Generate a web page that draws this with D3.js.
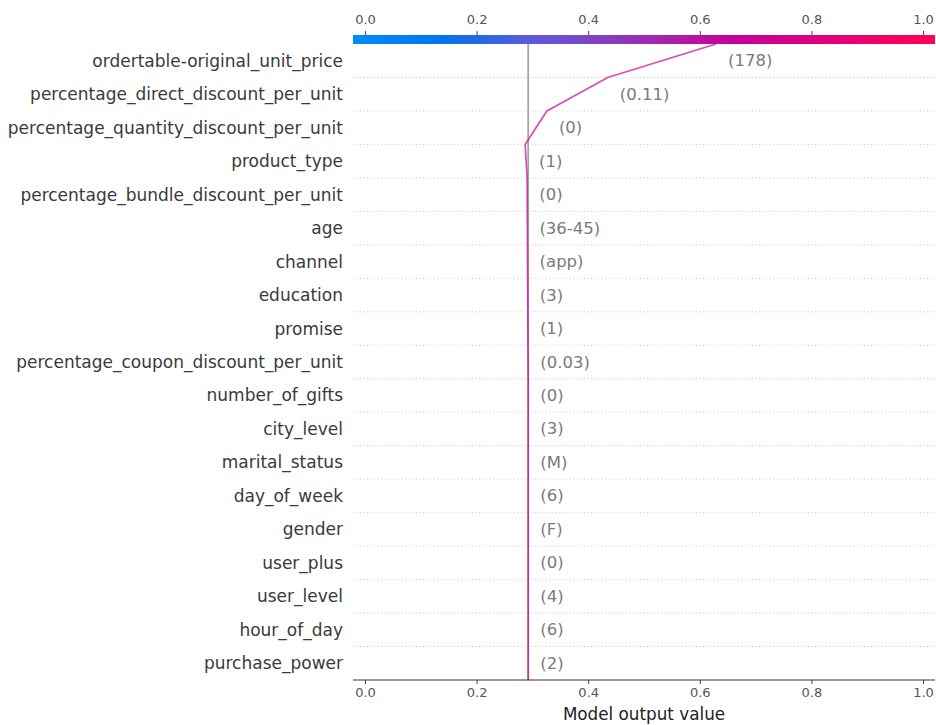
<!DOCTYPE html>
<html><head><meta charset="utf-8">
<script src="https://cdn.jsdelivr.net/npm/d3@7"></script>
<style>
html,body{margin:0;padding:0;background:#fff;}
svg{display:block;font-family:"DejaVu Sans",sans-serif;}
</style></head>
<body>
<svg id="chart" width="936" height="725"></svg>
<script>
// ---- data ----
const features = [
  "ordertable-original_unit_price",
  "percentage_direct_discount_per_unit",
  "percentage_quantity_discount_per_unit",
  "product_type",
  "percentage_bundle_discount_per_unit",
  "age",
  "channel",
  "education",
  "promise",
  "percentage_coupon_discount_per_unit",
  "number_of_gifts",
  "city_level",
  "marital_status",
  "day_of_week",
  "gender",
  "user_plus",
  "user_level",
  "hour_of_day",
  "purchase_power"
];
const featureValues = ["178","0.11","0","1","0","36-45","app","3","1","0.03","0","3","M","6","F","0","4","6","2"];
const shapValues = [0.194, 0.109, 0.039, -0.0035, -0.0003, -0.0003, -0.0003, -0.0003, -0.0003, -0.0005, 0, 0, 0, 0, 0, 0, 0, 0, 0];
const baseValue = 0.2925;
const xTicks = [0.0, 0.2, 0.4, 0.6, 0.8, 1.0];
const cmapStops = [0, 0.15, 0.2, 0.3, 0.4, 0.5, 0.6, 0.65, 0.75, 0.85, 1.0];
const cmapColors = ["#008bfb","#0076ed","#1a6ae8","#5a5ddc","#7c45c9","#9b2db4","#bb109e","#c4009a","#d4008a","#e80074","#ff0052"];

// ---- layout ----
const svg = d3.select("#chart");
const plotLeft = 353, plotRight = 935, plotTop = 44, plotBottom = 680;
const x = d3.scaleLinear().domain([0, 1]).range([365, 923]);
const n = features.length;
const yB = d3.scaleLinear().domain([0, n]).range([plotTop, plotBottom]); // row boundaries
const cmap = d3.scaleLinear().domain(cmapStops).range(cmapColors).interpolate(d3.interpolateRgb);

// cumulative values at boundaries (index 0 = top, n = bottom)
const cum = new Array(n + 1);
cum[n] = baseValue;
for (let i = n - 1; i >= 0; i--) cum[i] = cum[i + 1] + shapValues[i];

// gradient for colorbar
const defs = svg.append("defs");
const grad = defs.append("linearGradient").attr("id", "cbar").attr("x1", "0%").attr("x2", "100%");
cmapStops.forEach((s, i) => grad.append("stop").attr("offset", (s * 100) + "%").attr("stop-color", cmapColors[i]));

// dotted gridlines at row boundaries
svg.append("g").selectAll("line").data(d3.range(1, n)).join("line")
  .attr("x1", plotLeft).attr("x2", plotRight)
  .attr("y1", d => yB(d)).attr("y2", d => yB(d))
  .attr("stroke", "#c8c8c8").attr("stroke-width", 1).attr("stroke-dasharray", "1,2.5");

// colorbar
svg.append("rect").attr("x", plotLeft).attr("y", 35).attr("width", plotRight - plotLeft).attr("height", plotTop - 35)
  .attr("fill", "url(#cbar)");

// top axis
const topAxis = svg.append("g").attr("transform", "translate(0,35)")
  .call(d3.axisTop(x).tickValues(xTicks).tickFormat(d3.format(".1f")).tickSize(4).tickPadding(7));
topAxis.select(".domain").remove();
topAxis.selectAll("line").attr("stroke", "#444");
topAxis.selectAll("text").attr("fill", "#555").style("font-size", "13px").style("font-family", "DejaVu Sans");

// base value line
svg.append("line").attr("x1", x(baseValue)).attr("x2", x(baseValue))
  .attr("y1", plotTop).attr("y2", plotBottom)
  .attr("stroke", "#a6a6a6").attr("stroke-width", 1.8);

// decision line
const lineGen = d3.line().x(d => x(d[0])).y(d => yB(d[1]));
svg.append("path").datum(cum.map((v, i) => [v, i]))
  .attr("d", lineGen).attr("fill", "none")
  .attr("stroke", cmap(cum[0])).attr("stroke-opacity", 0.7).attr("stroke-width", 1.7);

// feature labels
svg.append("g").selectAll("text").data(features).join("text")
  .attr("x", 343).attr("y", (d, i) => yB(i + 0.5))
  .attr("text-anchor", "end").attr("dominant-baseline", "central")
  .attr("fill", "#3a3a3a").style("font-size", "17px")
  .text(d => d);

// value labels
svg.append("g").selectAll("text").data(featureValues).join("text")
  .attr("x", (d, i) => x(Math.max(cum[i], cum[i + 1])) + 12)
  .attr("y", (d, i) => yB(i + 0.5))
  .attr("text-anchor", "start").attr("dominant-baseline", "central")
  .attr("fill", "#7a7a7a").style("font-size", "16.5px")
  .text(d => "(" + d + ")");

// bottom axis
const botAxis = svg.append("g").attr("transform", `translate(0,${plotBottom})`)
  .call(d3.axisBottom(x).tickValues(xTicks).tickFormat(d3.format(".1f")).tickSize(4).tickPadding(4));
botAxis.select(".domain").remove();
svg.append("line").attr("x1", plotLeft).attr("x2", plotRight).attr("y1", plotBottom).attr("y2", plotBottom)
  .attr("stroke", "#333").attr("stroke-width", 1.2);
botAxis.selectAll("line").attr("stroke", "#444");
botAxis.selectAll("text").attr("fill", "#555").style("font-size", "13px").style("font-family", "DejaVu Sans");

svg.append("text").attr("x", x(0.5)).attr("y", 714)
  .attr("text-anchor", "middle").attr("dominant-baseline", "central")
  .attr("fill", "#222").style("font-size", "16.8px")
  .text("Model output value");
</script>
</body></html>
